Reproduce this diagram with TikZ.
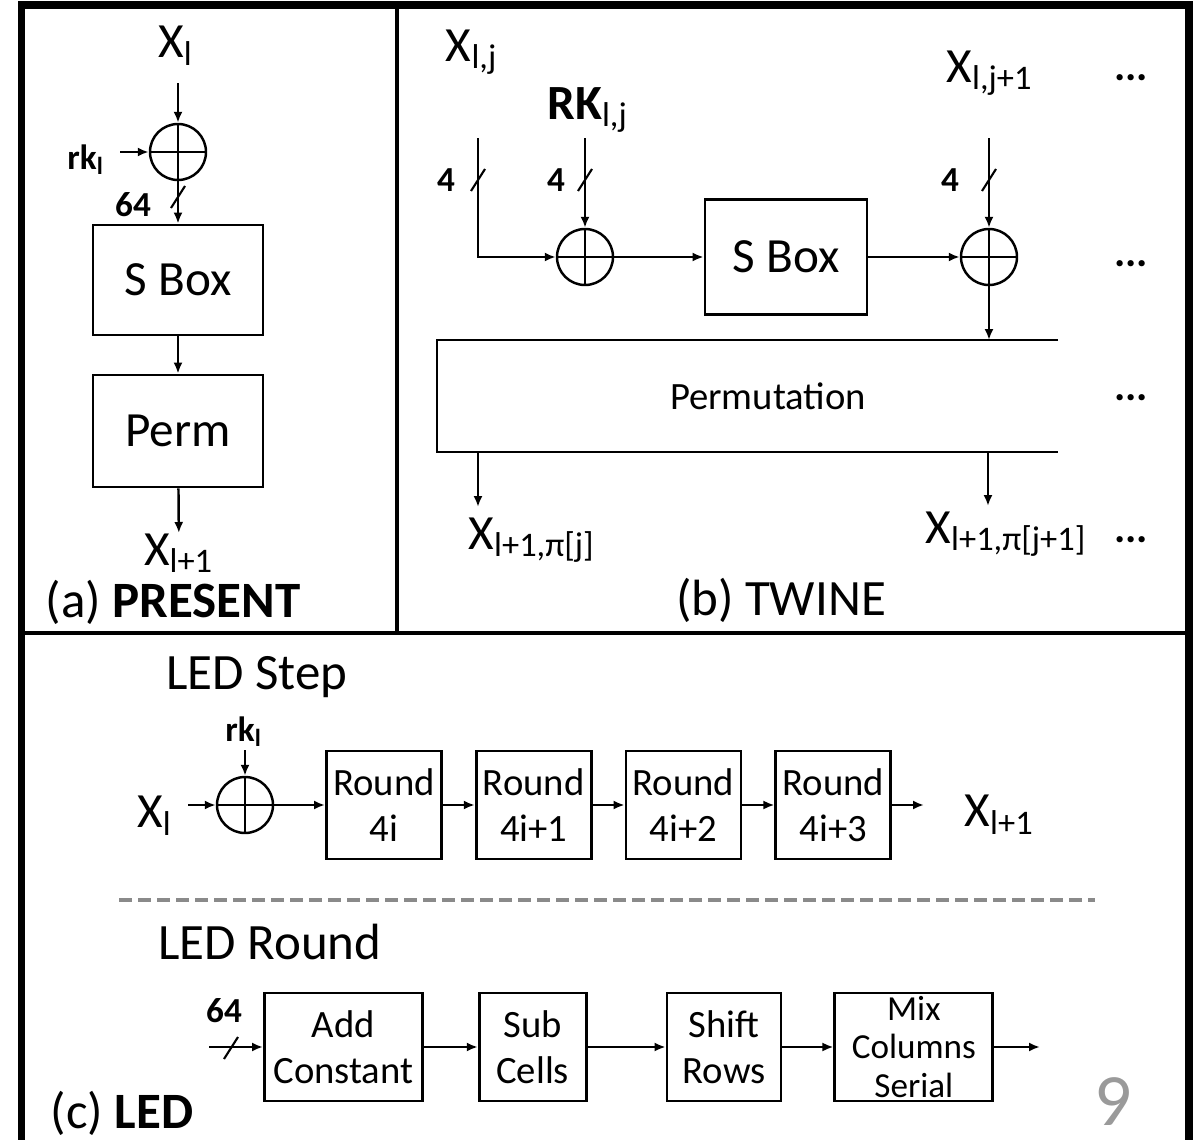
\documentclass[tikz,border=0pt]{standalone}
\usepackage{fontspec}
\setmainfont{Carlito}
\usetikzlibrary{arrows.meta,positioning}
\definecolor{SepGray}{HTML}{8A8A8A}
\definecolor{PageGray}{HTML}{9A9A9A}

\begin{document}
\begin{tikzpicture}[
  node distance=3.2mm,
  blk/.style={draw,line width=0.8pt,align=center,inner sep=0pt,font=\fontsize{14}{16}\selectfont},
  rnd/.style={draw,line width=0.8pt,align=center,inner sep=0pt,minimum width=11.5mm,
              minimum height=10.8mm,font=\fontsize{11}{13}\selectfont},
  opbox/.style={draw,line width=0.8pt,align=center,inner sep=0pt,minimum height=10.8mm,
                font=\fontsize{11}{13}\selectfont},
  xorc/.style={draw,circle,line width=0.7pt,minimum size=5.6mm,inner sep=0pt,
               path picture={\draw[line width=0.7pt]
                 (path picture bounding box.north) -- (path picture bounding box.south)
                 (path picture bounding box.west) -- (path picture bounding box.east);}},
  arr/.style={-{Latex[length=1.1mm,width=0.9mm]},line width=0.7pt},
  lbl/.style={inner sep=0pt,font=\fontsize{14}{16}\selectfont},
  bits/.style={inner sep=0pt,font=\bfseries\fontsize{10}{12}\selectfont},
  dots/.style={inner sep=0pt,font=\bfseries\fontsize{12}{12}\selectfont},
  title/.style={inner sep=0pt,font=\fontsize{14.5}{16}\selectfont},
  busmark/.pic={\draw[line width=0.6pt] (-0.07,-0.11) -- (0.07,0.11);}
]
\useasboundingbox (0,0) rectangle (11.97,11.39);

% frame and panel dividers
\draw[line width=2pt] (0.215,-0.3) -- (0.215,11.34) -- (11.89,11.34) -- (11.89,-0.3);
\draw[line width=0.9pt] (3.97,11.34) -- (3.97,5.06);
\draw[line width=0.9pt] (0.215,5.06) -- (11.89,5.06);

% (a) PRESENT
\node[lbl] (xa) at (1.76,10.93) {X\textsubscript{l}};
\coordinate (xain) at (1.78,10.56);
\node[xorc] (xora) at (1.78,9.87) {};
\node[bits] (rka) at (0.86,9.79) {rk\textsubscript{l}};
\coordinate (rkain) at (1.20,9.87);
\node[blk,minimum width=17mm,minimum height=11mm] (sboxa) at (1.78,8.59) {S Box};
\node[blk,minimum width=17mm,minimum height=11.2mm] (perma) at (1.78,7.08) {Perm};
\node[lbl,anchor=north] (xa1) at (1.79,6.06) {X\textsubscript{l+1}};
\draw[arr] (xain) -- (xora);
\draw[arr] (rkain) -- (xora);
\draw[arr] (xora) -- (sboxa);
\pic at (1.78,9.42) {busmark};
\node[bits] at (1.33,9.34) {64};
\draw[arr] (sboxa) -- (perma);
\draw[arr] (perma) -- (xa1);
\node[title,anchor=west] at (0.45,5.37) {(a) \textbf{PRESENT}};

% (b) TWINE
\node[lbl] (xb) at (4.72,10.87) {X\textsubscript{l,j}};
\node[lbl] (rkb) at (5.88,10.29) {\textbf{RK}\textsubscript{l,j}};
\node[lbl] (xb1) at (9.90,10.66) {X\textsubscript{l,j+1}};
\coordinate (xbin) at (4.78,10.01);
\coordinate (rkbin) at (5.85,10.01);
\coordinate (xb1in) at (9.89,10.01);
\node[xorc] (xorb) at (5.85,8.82) {};
\node[blk,minimum width=16.2mm,minimum height=11.5mm] (sboxb) at (7.86,8.82) {S Box};
\node[xorc] (xorb2) at (9.89,8.82) {};
\draw[arr] (xbin) |- (xorb);
\draw[arr] (rkbin) -- (xorb);
\draw[arr] (xorb) -- (sboxb);
\draw[arr] (sboxb) -- (xorb2);
\draw[arr] (xb1in) -- (xorb2);
\foreach \x/\lx in {4.78/4.46, 5.85/5.56, 9.89/9.50}{
  \pic at (\x,9.59) {busmark};
  \node[bits] at (\lx,9.59) {4};
}
\node[font=\fontsize{11}{13}\selectfont] (permb) at (7.68,7.43) {Permutation};
\draw[line width=0.8pt] (10.58,7.99) -- (4.37,7.99) -- (4.37,6.87) -- (10.58,6.87);
\coordinate (ptop) at (9.89,7.99);
\coordinate (pout1) at (4.78,6.87);
\coordinate (pout2) at (9.88,6.87);
\draw[arr] (xorb2) -- (ptop);
\node[lbl,anchor=north west] (yb) at (4.68,6.22) {X\textsubscript{l+1,π[j]}};
\node[lbl,anchor=north west] (yb1) at (9.25,6.28) {X\textsubscript{l+1,π[j+1]}};
\draw[arr,shorten >=1mm] (pout1) -- (pout1 |- yb.north);
\draw[arr,shorten >=0.5mm] (pout2) -- (pout2 |- yb1.north);
\foreach \y in {10.61,8.75,7.41,5.99}
  \node[dots] at (11.31,\y) {...};
\node[title] at (7.81,5.39) {(b) TWINE};

% (c) LED
\node[title] at (2.57,4.62) {LED Step};
\node[lbl] (xc) at (1.55,3.23) {X\textsubscript{l}};
\coordinate (xcout) at (1.88,3.34);
\node[xorc] (xorcc) at (2.45,3.34) {};
\node[bits] (rkc) at (2.44,4.07) {rk\textsubscript{l}};
\coordinate (rkcin) at (2.45,3.89);
\node[rnd,anchor=west] (r0) at (3.25,3.34) {Round\\4i};
\node[rnd,right=of r0] (r1) {Round\\4i+1};
\node[rnd,right=of r1] (r2) {Round\\4i+2};
\node[rnd,right=of r2] (r3) {Round\\4i+3};
\node[lbl,anchor=west] (xc1) at (9.64,3.24) {X\textsubscript{l+1}};
\draw[arr] (xcout) -- (xorcc);
\draw[arr] (rkcin) -- (xorcc);
\draw[arr] (xorcc) -- (r0);
\draw[arr] (r0) -- (r1);
\draw[arr] (r1) -- (r2);
\draw[arr] (r2) -- (r3);
\draw[arr,shorten >=4mm] (r3) -- (r3 -| xc1.west);

\draw[SepGray,line width=0.9pt,dash pattern=on 0.13cm off 0.06cm] (1.19,2.39) -- (10.95,2.39);

\node[title] at (2.70,1.97) {LED Round};
\node[opbox,minimum width=15.8mm,anchor=west] (addc) at (2.63,0.92) {Add\\Constant};
\node[opbox,minimum width=10.7mm,right=5.4mm of addc] (subc) {Sub\\Cells};
\node[opbox,minimum width=11.4mm,right=7.8mm of subc] (shr) {Shift\\Rows};
\node[opbox,minimum width=15.8mm,right=5.1mm of shr,
      font=\fontsize{10}{11}\selectfont] (mixc) {Mix\\Columns\\Serial};
\coordinate (cin) at (2.09,0.92);
\coordinate (cout) at (10.40,0.92);
\draw[arr] (cin) -- (addc);
\pic at (2.31,0.91) {busmark};
\node[bits] at (2.24,1.28) {64};
\draw[arr] (addc) -- (subc);
\draw[arr] (subc) -- (shr);
\draw[arr] (shr) -- (mixc);
\draw[arr] (mixc) -- (cout);
\node[title,anchor=west] at (0.50,0.26) {(c) \textbf{LED}};
\node[inner sep=0pt,text=PageGray,font=\fontsize{21}{21}\selectfont,anchor=base] at (11.13,0.14) {9};
\end{tikzpicture}
\end{document}
